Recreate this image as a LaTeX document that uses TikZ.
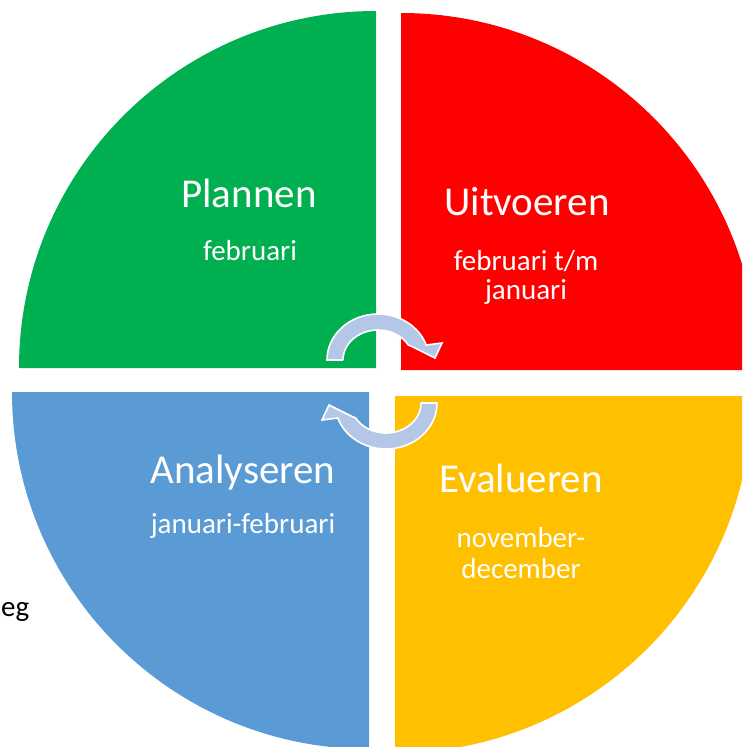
\documentclass[tikz,border=0pt]{standalone}
\usepackage{fontspec}
\setmainfont{Carlito}
\definecolor{qgreen}{HTML}{00B050}
\definecolor{qred}{HTML}{FF0000}
\definecolor{qblue}{HTML}{5B9BD5}
\definecolor{qyellow}{HTML}{FFC000}
\definecolor{arrowfill}{HTML}{B4C7E7}
\tikzset{
  quad/.style={draw=none},
  cyclearrow/.style={fill=arrowfill, draw=white, line width=1.6pt, line join=miter},
  title/.style={text=white, font=\fontsize{41}{45}\selectfont, anchor=base, inner sep=0pt},
  sub/.style={text=white, font=\fontsize{29}{32}\selectfont, anchor=base, inner sep=0pt},
  side/.style={text=black, font=\fontsize{29}{32}\selectfont, anchor=base west, inner sep=0pt}
}
\begin{document}
\begin{tikzpicture}[x=1pt,y=1pt,yscale=-1]
\clip (0,0) rectangle (742,747);
% quadrants
\fill[qgreen, quad] (376,368) -- (19,368) arc[start angle=180, end angle=270, radius=357] -- cycle;
\fill[qred, quad] (401,370) -- (401,13) arc[start angle=270, end angle=360, radius=357] -- cycle;
\fill[qblue, quad] (369,392) -- (12,392) arc[start angle=180, end angle=90, radius=357] -- cycle;
\fill[qyellow, quad] (395,396) -- (752,396) arc[start angle=0, end angle=90, radius=357] -- cycle;
% cycle arrows
\path[cyclearrow] (343,360) -- (327,360)
  arc[start angle=180, end angle=341, x radius=51, y radius=46]
  -- (442,343) -- (435,358) -- (413,347) -- (408.3,345)
  arc[start angle=330, end angle=180, x radius=35, y radius=30] -- cycle;
\path[cyclearrow, rotate around={180:(382,381.5)}] (343,360) -- (327,360)
  arc[start angle=180, end angle=341, x radius=51, y radius=46]
  -- (442,343) -- (435,358) -- (413,347) -- (408.3,345)
  arc[start angle=330, end angle=180, x radius=35, y radius=30] -- cycle;
% texts
\node[title] (plan) at (249,207) {Plannen};
\node[sub] (planm) at (250,260) {februari};
\node[title] (uit) at (527,215) {Uitvoeren};
\node[sub] (uitm1) at (526,270) {februari t/m};
\node[sub] (uitm2) at (526,299) {januari};
\node[title] (ana) at (243,483) {Analyseren};
\node[sub] (anam) at (243,533) {januari-februari};
\node[title] (eva) at (521,492) {Evalueren};
\node[sub] (evam1) at (521,547) {november-};
\node[sub] (evam2) at (521,578) {december};
\node[side] (eg) at (1,616) {eg};
\end{tikzpicture}
\end{document}
